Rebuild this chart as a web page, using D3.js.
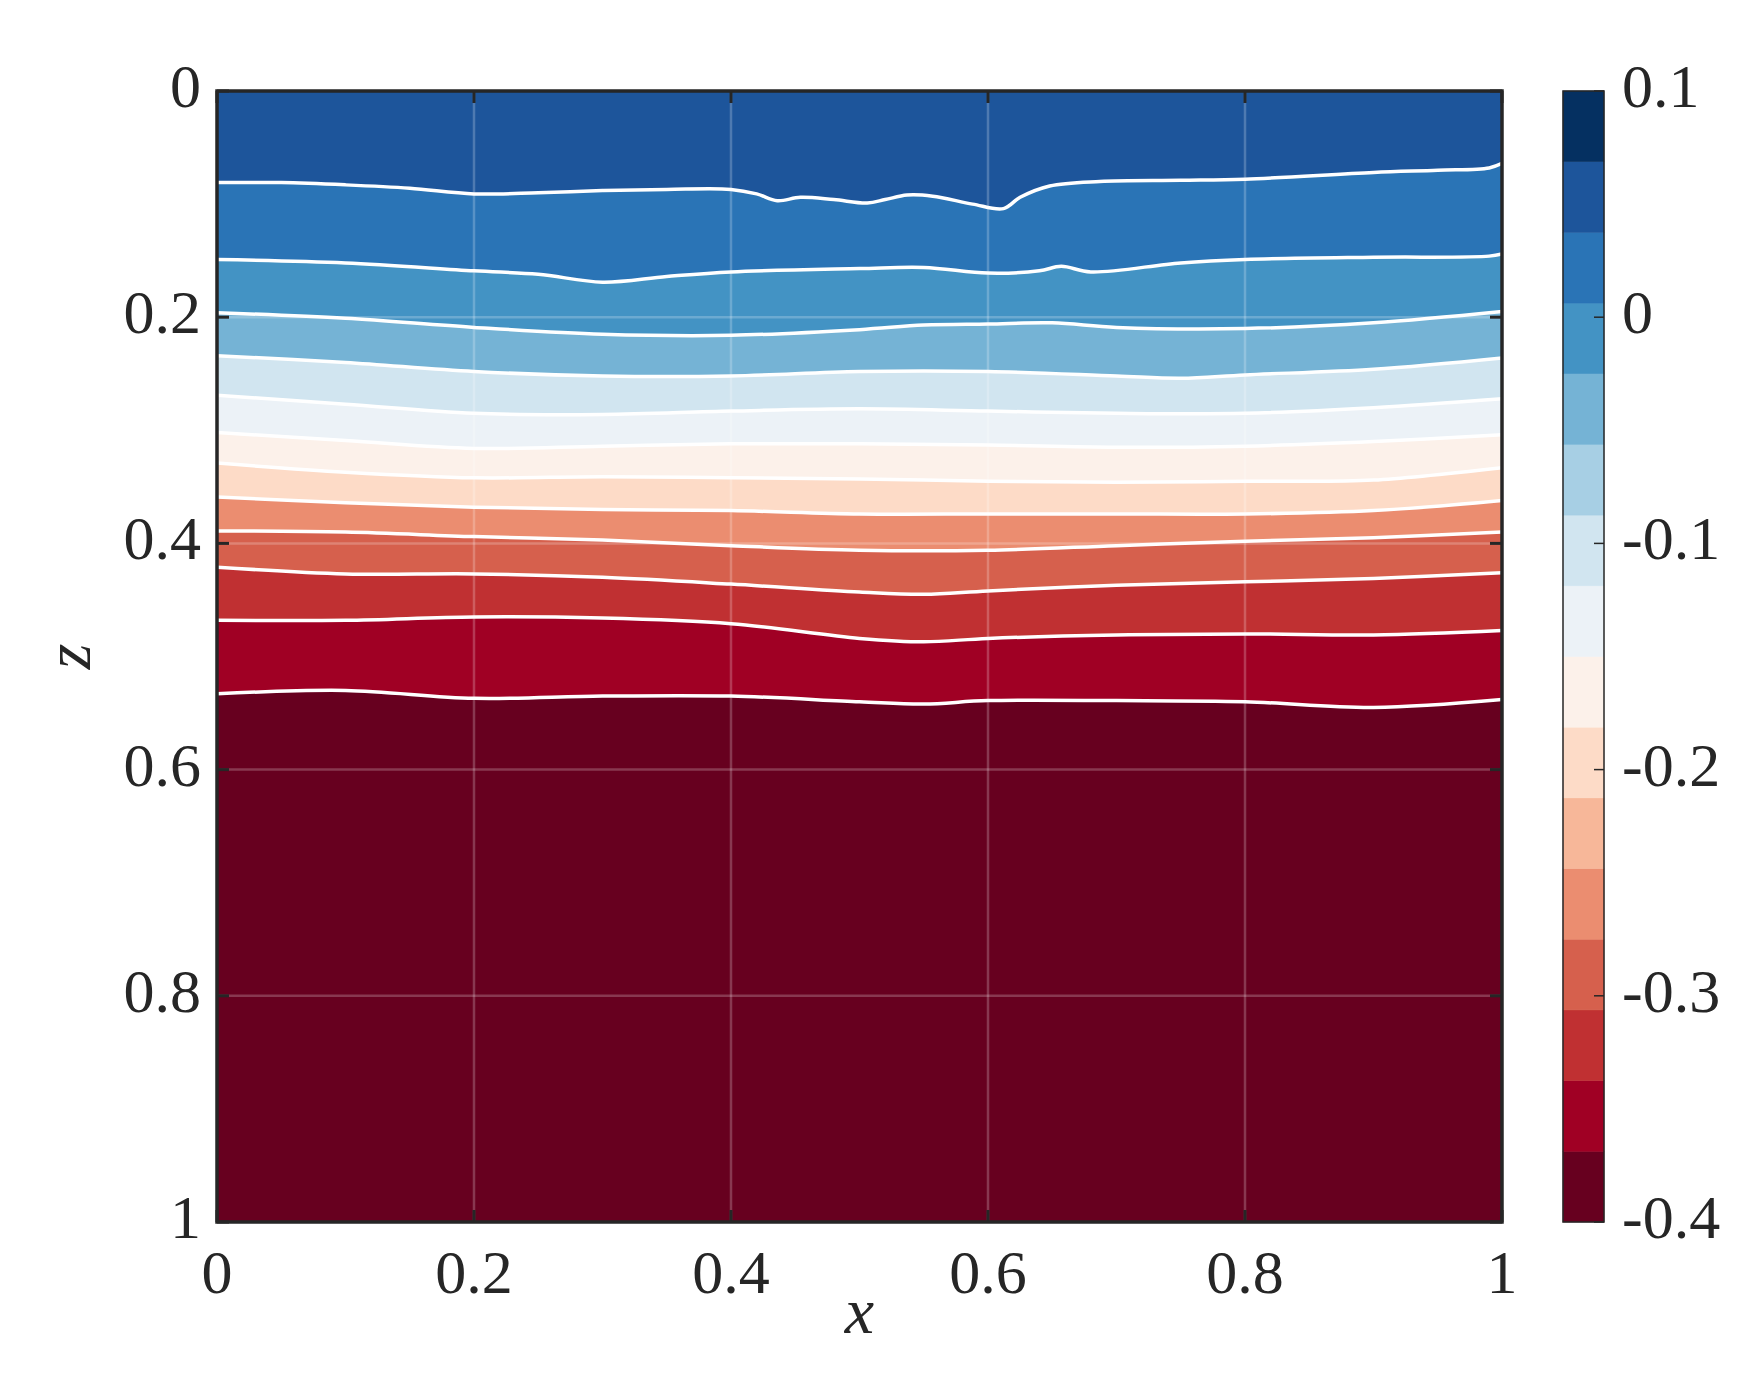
<!DOCTYPE html>
<html>
<head>
<meta charset="utf-8">
<script src="https://cdn.jsdelivr.net/npm/d3@7"></script>
<style>
  body { margin: 0; background: #fff; }
  text { font-family: "Liberation Serif", "DejaVu Serif", serif; fill: #262626; }
</style>
</head>
<body>
<div id="chart"></div>
<script>
// tick labels
const xTicks = [0, 0.2, 0.4, 0.6, 0.8, 1]
const zTicks = [0, 0.2, 0.4, 0.6, 0.8, 1]
const cbarTicks = [0.1, 0, -0.1, -0.2, -0.3, -0.4]

// colorbar: 16 discrete colours from -0.4 (bottom) to 0.1 (top)
const cbarColors = ["#67001f", "#a00024", "#c03032", "#d6604d", "#eb8d70", "#f7b799",
  "#fddbc7", "#fcf1ea", "#ecf2f7", "#d1e5f0", "#a7cfe4", "#75b3d5",
  "#4393c4", "#2a74b6", "#1d559b", "#053061"]

// representative field value of each filled region, top to bottom
const bandValues = [0.05, 0.02, -0.01, -0.04, -0.10, -0.13, -0.16, -0.20, -0.26, -0.29, -0.32, -0.35, -0.39]

// white contour lines, [x, z], top to bottom
const line1 = [[0, 0.081], [0.05, 0.081], [0.1, 0.083], [0.15, 0.086], [0.2, 0.091], [0.25, 0.090], [0.3, 0.088],
  [0.35, 0.087], [0.4, 0.087], [0.42, 0.091], [0.436, 0.097], [0.454, 0.094], [0.48, 0.096], [0.506, 0.099],
  [0.52, 0.096], [0.537, 0.092], [0.557, 0.093], [0.588, 0.100], [0.612, 0.104], [0.625, 0.094], [0.648, 0.084],
  [0.687, 0.080], [0.75, 0.079], [0.8, 0.078], [0.9, 0.072], [0.95, 0.070], [0.99, 0.068], [1, 0.064]]
const line2 = [[0, 0.149], [0.1, 0.152], [0.2, 0.159], [0.25, 0.162], [0.3, 0.169], [0.35, 0.164], [0.4, 0.160],
  [0.5, 0.157], [0.55, 0.156], [0.6, 0.161], [0.64, 0.159], [0.657, 0.155], [0.68, 0.160], [0.75, 0.152],
  [0.8, 0.149], [0.9, 0.147], [0.99, 0.146], [1, 0.144]]
const line3 = [[0, 0.196], [0.1, 0.201], [0.2, 0.209], [0.3, 0.215], [0.4, 0.216], [0.5, 0.211], [0.55, 0.207],
  [0.6, 0.206], [0.65, 0.205], [0.7, 0.209], [0.8, 0.210], [0.9, 0.205], [1, 0.195]]
const line4 = [[0, 0.234], [0.1, 0.240], [0.2, 0.248], [0.3, 0.252], [0.4, 0.252], [0.5, 0.248], [0.6, 0.248],
  [0.7, 0.252], [0.75, 0.254], [0.8, 0.251], [0.9, 0.246], [1, 0.236]]
const line5 = [[0, 0.269], [0.1, 0.277], [0.2, 0.285], [0.3, 0.286], [0.4, 0.283], [0.5, 0.281], [0.6, 0.283],
  [0.7, 0.285], [0.8, 0.285], [0.9, 0.280], [1, 0.272]]
const line6 = [[0, 0.302], [0.1, 0.309], [0.2, 0.316], [0.3, 0.314], [0.4, 0.312], [0.5, 0.312], [0.6, 0.313],
  [0.7, 0.315], [0.8, 0.314], [0.9, 0.310], [1, 0.304]]
const line7 = [[0, 0.329], [0.1, 0.337], [0.2, 0.342], [0.3, 0.341], [0.4, 0.342], [0.5, 0.343], [0.6, 0.345],
  [0.7, 0.346], [0.8, 0.345], [0.9, 0.344], [1, 0.333]]
const line8 = [[0, 0.359], [0.1, 0.364], [0.2, 0.368], [0.3, 0.370], [0.4, 0.371], [0.5, 0.374], [0.6, 0.374],
  [0.7, 0.374], [0.8, 0.374], [0.9, 0.371], [1, 0.362]]
const line9 = [[0, 0.389], [0.1, 0.390], [0.2, 0.394], [0.3, 0.397], [0.4, 0.402], [0.5, 0.406], [0.6, 0.406],
  [0.7, 0.402], [0.8, 0.398], [0.9, 0.395], [1, 0.390]]
const line10 = [[0, 0.421], [0.1, 0.427], [0.2, 0.427], [0.3, 0.430], [0.4, 0.436], [0.5, 0.443], [0.55, 0.445],
  [0.6, 0.442], [0.7, 0.437], [0.8, 0.434], [0.9, 0.431], [1, 0.426]]
const line11 = [[0, 0.468], [0.1, 0.468], [0.2, 0.465], [0.3, 0.466], [0.4, 0.471], [0.5, 0.484], [0.55, 0.487],
  [0.6, 0.484], [0.7, 0.481], [0.8, 0.480], [0.9, 0.481], [1, 0.477]]
const line12 = [[0, 0.533], [0.1, 0.530], [0.2, 0.537], [0.3, 0.535], [0.4, 0.535], [0.5, 0.540], [0.55, 0.542],
  [0.6, 0.539], [0.7, 0.539], [0.8, 0.540], [0.9, 0.545], [1, 0.538]]
const contourLines = [line1, line2, line3, line4, line5, line6, line7, line8, line9, line10, line11, line12]

// layout
const W = 1757, H = 1373
const plot = { left: 217, top: 91, width: 1285, height: 1131 }
const cbar = { left: 1563, width: 41 }
const fs = 62

const svg = d3.select("#chart").append("svg")
  .attr("width", W)
  .attr("height", H)

const x = d3.scaleLinear().domain([0, 1]).range([plot.left, plot.left + plot.width])
const z = d3.scaleLinear().domain([0, 1]).range([plot.top, plot.top + plot.height])

// discrete colour lookup shared by plot and colorbar
const edges = d3.range(cbarColors.length + 1).map(i => -0.4 + i * 0.5 / cbarColors.length)
const color = d3.scaleThreshold().domain(edges.slice(1, -1)).range(cbarColors)

svg.append("clipPath").attr("id", "clip")
  .append("rect")
  .attr("x", plot.left).attr("y", plot.top)
  .attr("width", plot.width).attr("height", plot.height)

const g = svg.append("g").attr("clip-path", "url(#clip)")

// deepest region fills everything, then each region above a line is painted on top
g.append("rect")
  .attr("x", plot.left).attr("y", plot.top)
  .attr("width", plot.width).attr("height", plot.height)
  .attr("fill", color(bandValues[bandValues.length - 1]))

const area = d3.area()
  .x(d => x(d[0]))
  .y0(z(0) - 5)
  .y1(d => z(d[1]))
  .curve(d3.curveCatmullRom)

const line = d3.line()
  .x(d => x(d[0]))
  .y(d => z(d[1]))
  .curve(d3.curveCatmullRom)

g.selectAll("path.band")
  .data(contourLines.map((l, i) => ({ pts: l, v: bandValues[i] })).reverse())
  .join("path")
  .attr("class", "band")
  .attr("d", d => area(d.pts))
  .attr("fill", d => color(d.v))

g.selectAll("path.cline")
  .data(contourLines)
  .join("path")
  .attr("class", "cline")
  .attr("d", d => line(d))
  .attr("fill", "none")
  .attr("stroke", "#fff")
  .attr("stroke-width", 3.5)

// grid
g.selectAll("line.gx")
  .data(xTicks.slice(1, -1))
  .join("line")
  .attr("x1", d => x(d)).attr("x2", d => x(d))
  .attr("y1", plot.top).attr("y2", plot.top + plot.height)
  .attr("stroke", "#fff").attr("stroke-opacity", 0.22).attr("stroke-width", 2.5)

g.selectAll("line.gz")
  .data(zTicks.slice(1, -1))
  .join("line")
  .attr("y1", d => z(d)).attr("y2", d => z(d))
  .attr("x1", plot.left).attr("x2", plot.left + plot.width)
  .attr("stroke", "#fff").attr("stroke-opacity", 0.22).attr("stroke-width", 2.5)

// axes box and inward ticks
const axisColor = "#262626"
const tickLen = 12
const ax = svg.append("g")
xTicks.forEach(t => {
  ax.append("line").attr("x1", x(t)).attr("x2", x(t))
    .attr("y1", z(1)).attr("y2", z(1) - tickLen)
    .attr("stroke", axisColor).attr("stroke-width", 3)
  ax.append("line").attr("x1", x(t)).attr("x2", x(t))
    .attr("y1", z(0)).attr("y2", z(0) + tickLen)
    .attr("stroke", axisColor).attr("stroke-width", 3)
})
zTicks.forEach(t => {
  ax.append("line").attr("y1", z(t)).attr("y2", z(t))
    .attr("x1", x(0)).attr("x2", x(0) + tickLen)
    .attr("stroke", axisColor).attr("stroke-width", 3)
  ax.append("line").attr("y1", z(t)).attr("y2", z(t))
    .attr("x1", x(1)).attr("x2", x(1) - tickLen)
    .attr("stroke", axisColor).attr("stroke-width", 3)
})
ax.append("rect")
  .attr("x", plot.left).attr("y", plot.top)
  .attr("width", plot.width).attr("height", plot.height)
  .attr("fill", "none").attr("stroke", axisColor).attr("stroke-width", 3.5)

// tick labels
ax.selectAll("text.xl")
  .data(xTicks)
  .join("text")
  .attr("x", d => x(d))
  .attr("y", 1293)
  .attr("text-anchor", "middle")
  .style("font-size", fs + "px")
  .text(d => d3.format("~g")(d))

ax.selectAll("text.zl")
  .data(zTicks)
  .join("text")
  .attr("x", plot.left - 16)
  .attr("y", d => z(d) + 16)
  .attr("text-anchor", "end")
  .style("font-size", fs + "px")
  .text(d => d3.format("~g")(d))

// axis labels
svg.append("text")
  .attr("x", plot.left + plot.width / 2)
  .attr("y", 1333)
  .attr("text-anchor", "middle")
  .style("font-size", "66px")
  .style("font-style", "italic")
  .text("x")

svg.append("text")
  .attr("transform", `translate(90, ${plot.top + plot.height / 2}) rotate(-90)`)
  .attr("text-anchor", "middle")
  .style("font-size", "66px")
  .style("font-style", "italic")
  .text("z")

// colorbar
const cz = d3.scaleLinear().domain([-0.4, 0.1]).range([plot.top + plot.height, plot.top])
const cb = svg.append("g")
cb.selectAll("rect")
  .data(cbarColors)
  .join("rect")
  .attr("x", cbar.left)
  .attr("width", cbar.width)
  .attr("y", (d, i) => cz(edges[i + 1]))
  .attr("height", (d, i) => cz(edges[i]) - cz(edges[i + 1]))
  .attr("fill", d => d)
  .attr("stroke", d => d)
  .attr("stroke-width", 0.5)

cb.selectAll("line")
  .data(cbarTicks)
  .join("line")
  .attr("x1", cbar.left + cbar.width).attr("x2", cbar.left + cbar.width - 10)
  .attr("y1", d => cz(d)).attr("y2", d => cz(d))
  .attr("stroke", axisColor).attr("stroke-width", 1.5)

cb.append("rect")
  .attr("x", cbar.left).attr("y", plot.top)
  .attr("width", cbar.width).attr("height", plot.height)
  .attr("fill", "none").attr("stroke", axisColor).attr("stroke-width", 1.5)

cb.selectAll("text")
  .data(cbarTicks)
  .join("text")
  .attr("x", 1622)
  .attr("y", d => cz(d) + 16)
  .style("font-size", fs + "px")
  .text(d => d === 0 ? "0" : d3.format(".1f")(d).replace("−", "-"))
</script>
</body>
</html>
